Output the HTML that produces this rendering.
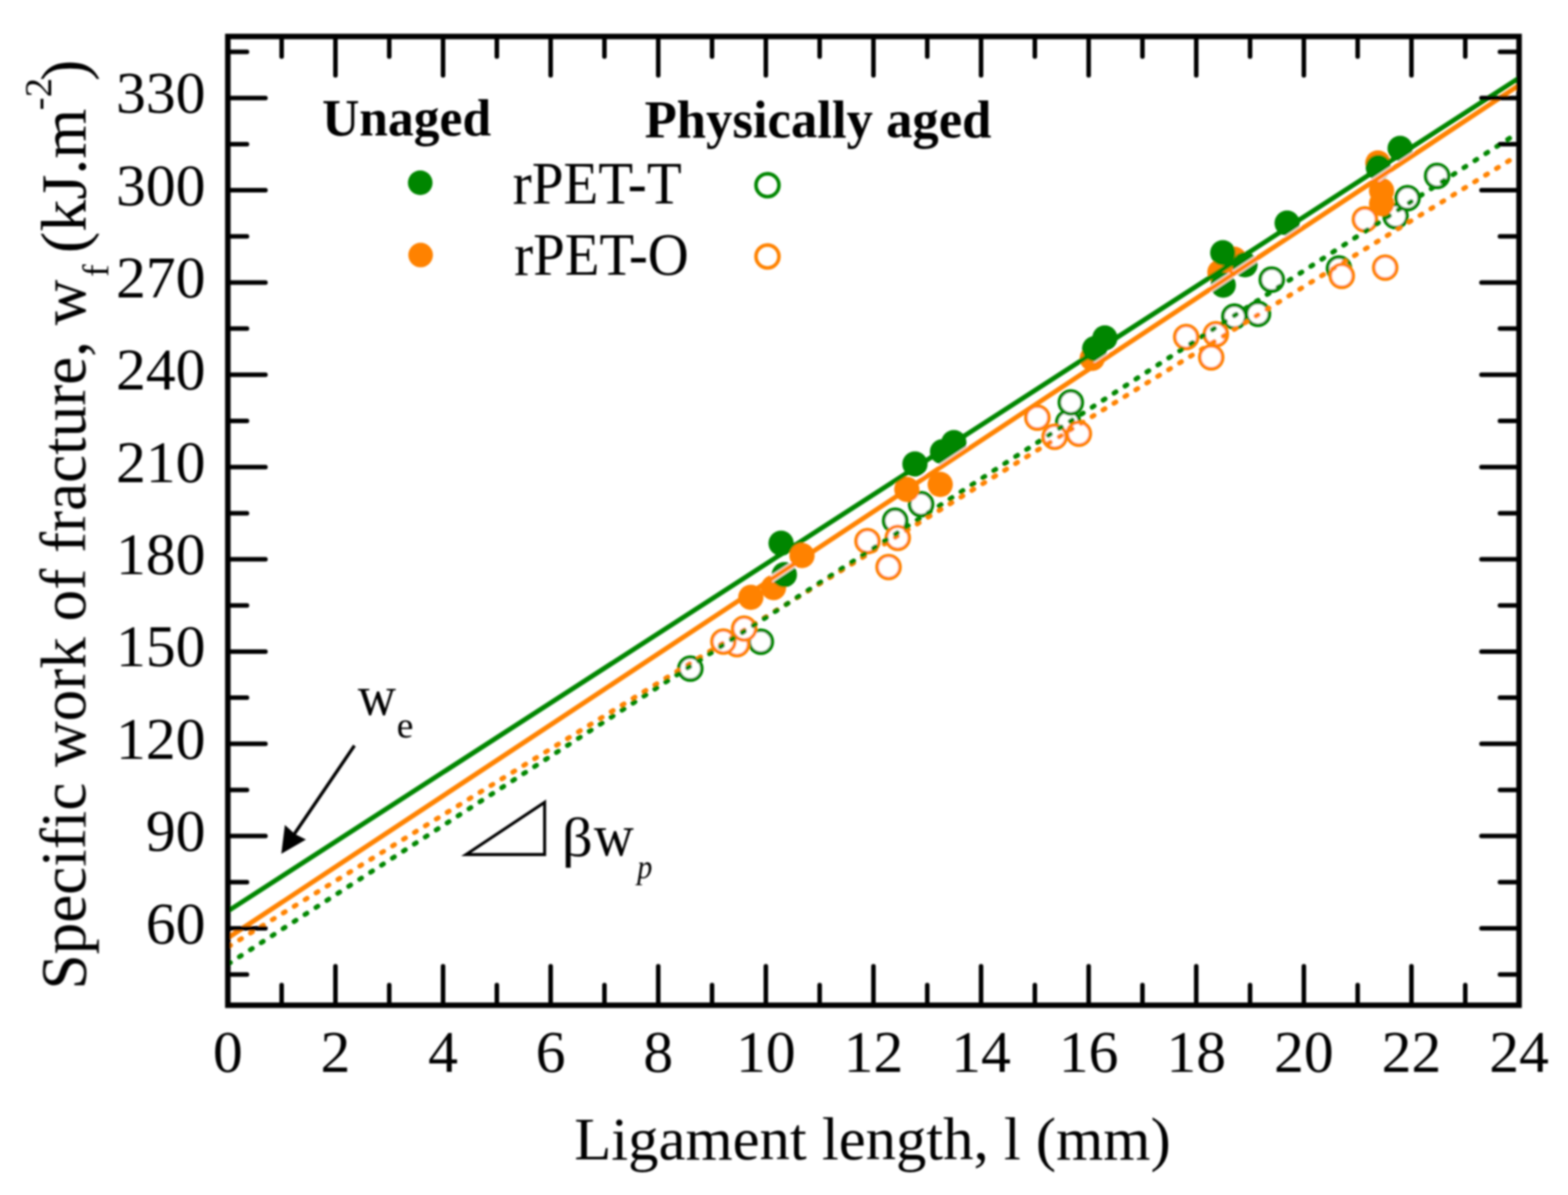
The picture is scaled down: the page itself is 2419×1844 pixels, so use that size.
<!DOCTYPE html><html><head><meta charset="utf-8"><title>Specific work of fracture vs ligament length</title><style>html,body{margin:0;padding:0;background:#fff;}svg{display:block;}text{font-family:"Liberation Serif","Times New Roman",serif;fill:#000;}</style></head><body>
<svg xmlns="http://www.w3.org/2000/svg" width="2419" height="1844" viewBox="0 0 2419 1844">
<rect x="0" y="0" width="2419" height="1844" fill="#fff"/>
<defs><filter id="soft" filterUnits="userSpaceOnUse" x="0" y="0" width="2419" height="1844"><feGaussianBlur stdDeviation="1.5"/></filter></defs>
<g filter="url(#soft)">
<defs><clipPath id="pc"><rect x="351.5" y="56.28888888888878" width="1992.0" height="1494.8500000000001"/></clipPath></defs>
<defs><clipPath id="cg"><circle cx="1205" cy="838.3" r="21.5"/><circle cx="1210" cy="886.7" r="21.5"/><circle cx="1411.5" cy="716" r="21.5"/><circle cx="1454" cy="697" r="21.5"/><circle cx="1471.5" cy="683" r="21.5"/><circle cx="1688.8" cy="538" r="21.5"/><circle cx="1704.5" cy="521.6" r="21.5"/><circle cx="1886.4" cy="390" r="21.5"/><circle cx="1887.1" cy="440" r="21.5"/><circle cx="1920.7" cy="408.6" r="21.5"/><circle cx="1985.7" cy="344.3" r="21.5"/><circle cx="2126.4" cy="258.6" r="21.5"/><circle cx="2160" cy="229" r="21.5"/></clipPath><clipPath id="co"><circle cx="1193.3" cy="906.7" r="21.5"/><circle cx="1158.3" cy="921.7" r="21.5"/><circle cx="1399" cy="755.2" r="21.5"/><circle cx="1450.5" cy="747.6" r="21.5"/><circle cx="1685" cy="553" r="21.5"/><circle cx="1882" cy="420" r="21.5"/><circle cx="1904" cy="400" r="21.5"/><circle cx="2125.7" cy="251.4" r="21.5"/><circle cx="2131.4" cy="294.3" r="21.5"/><circle cx="2131.4" cy="314.3" r="21.5"/></clipPath></defs>
<g clip-path="url(#pc)">
<circle cx="1065" cy="1031.7" r="17.7" fill="#fff" stroke="#008600" stroke-width="5.6"/>
<circle cx="1173.8" cy="990.2" r="17.7" fill="#fff" stroke="#008600" stroke-width="5.6"/>
<circle cx="1421" cy="778" r="17.7" fill="#fff" stroke="#008600" stroke-width="5.6"/>
<circle cx="1381" cy="803.5" r="17.7" fill="#fff" stroke="#008600" stroke-width="5.6"/>
<circle cx="1648" cy="652" r="17.7" fill="#fff" stroke="#008600" stroke-width="5.6"/>
<circle cx="1652" cy="621" r="17.7" fill="#fff" stroke="#008600" stroke-width="5.6"/>
<circle cx="1904.3" cy="488.6" r="17.7" fill="#fff" stroke="#008600" stroke-width="5.6"/>
<circle cx="1940.7" cy="484.3" r="17.7" fill="#fff" stroke="#008600" stroke-width="5.6"/>
<circle cx="1962" cy="431.4" r="17.7" fill="#fff" stroke="#008600" stroke-width="5.6"/>
<circle cx="2065.7" cy="414.3" r="17.7" fill="#fff" stroke="#008600" stroke-width="5.6"/>
<circle cx="2153" cy="333.5" r="17.7" fill="#fff" stroke="#008600" stroke-width="5.6"/>
<circle cx="2171.4" cy="305.7" r="17.7" fill="#fff" stroke="#008600" stroke-width="5.6"/>
<circle cx="2217.1" cy="271.4" r="17.7" fill="#fff" stroke="#008600" stroke-width="5.6"/>
<circle cx="1627" cy="674" r="17.7" fill="#fff" stroke="#ff8200" stroke-width="5.6"/>
<circle cx="1137" cy="994" r="17.7" fill="#fff" stroke="#ff8200" stroke-width="5.6"/>
<circle cx="1148" cy="970" r="17.7" fill="#fff" stroke="#ff8200" stroke-width="5.6"/>
<circle cx="1116" cy="990" r="17.7" fill="#fff" stroke="#ff8200" stroke-width="5.6"/>
<circle cx="1338.3" cy="835" r="17.7" fill="#fff" stroke="#ff8200" stroke-width="5.6"/>
<circle cx="1385" cy="830" r="17.7" fill="#fff" stroke="#ff8200" stroke-width="5.6"/>
<circle cx="1370.8" cy="875" r="17.7" fill="#fff" stroke="#ff8200" stroke-width="5.6"/>
<circle cx="1600.4" cy="644.4" r="17.7" fill="#fff" stroke="#ff8200" stroke-width="5.6"/>
<circle cx="1664.4" cy="669.2" r="17.7" fill="#fff" stroke="#ff8200" stroke-width="5.6"/>
<circle cx="1830" cy="520" r="17.7" fill="#fff" stroke="#ff8200" stroke-width="5.6"/>
<circle cx="1875.7" cy="515.7" r="17.7" fill="#fff" stroke="#ff8200" stroke-width="5.6"/>
<circle cx="1868.6" cy="551.4" r="17.7" fill="#fff" stroke="#ff8200" stroke-width="5.6"/>
<circle cx="2070" cy="425.7" r="17.7" fill="#fff" stroke="#ff8200" stroke-width="5.6"/>
<circle cx="2137" cy="412.9" r="17.7" fill="#fff" stroke="#ff8200" stroke-width="5.6"/>
<circle cx="2105.7" cy="338.6" r="17.7" fill="#fff" stroke="#ff8200" stroke-width="5.6"/>
<line x1="351.5" y1="1461.3" x2="2334" y2="244.4" stroke="#ff8200" stroke-width="7.5" stroke-linecap="round" stroke-dasharray="3.5 16.285" stroke-dashoffset="-1.41"/>
<line x1="351.5" y1="1487.9" x2="2334" y2="210.0" stroke="#008600" stroke-width="7.5" stroke-linecap="round" stroke-dasharray="3.5 16.568" stroke-dashoffset="-1.14"/>
<circle cx="1193.3" cy="906.7" r="19.5" fill="#ff8200"/>
<circle cx="1158.3" cy="921.7" r="19.5" fill="#ff8200"/>
<circle cx="1399" cy="755.2" r="19.5" fill="#ff8200"/>
<circle cx="1450.5" cy="747.6" r="19.5" fill="#ff8200"/>
<circle cx="1685" cy="553" r="19.5" fill="#ff8200"/>
<circle cx="1882" cy="420" r="19.5" fill="#ff8200"/>
<circle cx="1904" cy="400" r="19.5" fill="#ff8200"/>
<circle cx="2125.7" cy="251.4" r="19.5" fill="#ff8200"/>
<circle cx="2131.4" cy="294.3" r="19.5" fill="#ff8200"/>
<circle cx="2131.4" cy="314.3" r="19.5" fill="#ff8200"/>
<line x1="351.5" y1="1406.0" x2="2343.5" y2="120.4" stroke="#008600" stroke-width="7.4"/>
<circle cx="1205" cy="838.3" r="19.5" fill="#008600"/>
<circle cx="1210" cy="886.7" r="19.5" fill="#008600"/>
<circle cx="1411.5" cy="716" r="19.5" fill="#008600"/>
<circle cx="1454" cy="697" r="19.5" fill="#008600"/>
<circle cx="1471.5" cy="683" r="19.5" fill="#008600"/>
<circle cx="1688.8" cy="538" r="19.5" fill="#008600"/>
<circle cx="1704.5" cy="521.6" r="19.5" fill="#008600"/>
<circle cx="1886.4" cy="390" r="19.5" fill="#008600"/>
<circle cx="1887.1" cy="440" r="19.5" fill="#008600"/>
<circle cx="1920.7" cy="408.6" r="19.5" fill="#008600"/>
<circle cx="1985.7" cy="344.3" r="19.5" fill="#008600"/>
<circle cx="2126.4" cy="258.6" r="19.5" fill="#008600"/>
<circle cx="2160" cy="229" r="19.5" fill="#008600"/>
<g clip-path="url(#cg)">
<line x1="351.5" y1="1447.4" x2="2343.5" y2="131.5" stroke="#fff" stroke-width="10.5"/>
</g>
<g clip-path="url(#cg)">
<line x1="351.5" y1="1406.0" x2="2343.5" y2="120.4" stroke="#008600" stroke-width="7.4"/>
</g>
<line x1="351.5" y1="1447.4" x2="2343.5" y2="131.5" stroke="#ff8200" stroke-width="7.4"/>
<circle cx="1237.3" cy="857.3" r="19.5" fill="#ff8200"/>
</g>
<g stroke="#000" stroke-width="7" stroke-linecap="round" fill="none">
<line x1="434.5" y1="1551.1" x2="434.5" y2="1520.1"/>
<line x1="434.5" y1="56.3" x2="434.5" y2="87.3"/>
<line x1="517.5" y1="1551.1" x2="517.5" y2="1491.1"/>
<line x1="517.5" y1="56.3" x2="517.5" y2="116.3"/>
<line x1="600.5" y1="1551.1" x2="600.5" y2="1520.1"/>
<line x1="600.5" y1="56.3" x2="600.5" y2="87.3"/>
<line x1="683.5" y1="1551.1" x2="683.5" y2="1491.1"/>
<line x1="683.5" y1="56.3" x2="683.5" y2="116.3"/>
<line x1="766.5" y1="1551.1" x2="766.5" y2="1520.1"/>
<line x1="766.5" y1="56.3" x2="766.5" y2="87.3"/>
<line x1="849.5" y1="1551.1" x2="849.5" y2="1491.1"/>
<line x1="849.5" y1="56.3" x2="849.5" y2="116.3"/>
<line x1="932.5" y1="1551.1" x2="932.5" y2="1520.1"/>
<line x1="932.5" y1="56.3" x2="932.5" y2="87.3"/>
<line x1="1015.5" y1="1551.1" x2="1015.5" y2="1491.1"/>
<line x1="1015.5" y1="56.3" x2="1015.5" y2="116.3"/>
<line x1="1098.5" y1="1551.1" x2="1098.5" y2="1520.1"/>
<line x1="1098.5" y1="56.3" x2="1098.5" y2="87.3"/>
<line x1="1181.5" y1="1551.1" x2="1181.5" y2="1491.1"/>
<line x1="1181.5" y1="56.3" x2="1181.5" y2="116.3"/>
<line x1="1264.5" y1="1551.1" x2="1264.5" y2="1520.1"/>
<line x1="1264.5" y1="56.3" x2="1264.5" y2="87.3"/>
<line x1="1347.5" y1="1551.1" x2="1347.5" y2="1491.1"/>
<line x1="1347.5" y1="56.3" x2="1347.5" y2="116.3"/>
<line x1="1430.5" y1="1551.1" x2="1430.5" y2="1520.1"/>
<line x1="1430.5" y1="56.3" x2="1430.5" y2="87.3"/>
<line x1="1513.5" y1="1551.1" x2="1513.5" y2="1491.1"/>
<line x1="1513.5" y1="56.3" x2="1513.5" y2="116.3"/>
<line x1="1596.5" y1="1551.1" x2="1596.5" y2="1520.1"/>
<line x1="1596.5" y1="56.3" x2="1596.5" y2="87.3"/>
<line x1="1679.5" y1="1551.1" x2="1679.5" y2="1491.1"/>
<line x1="1679.5" y1="56.3" x2="1679.5" y2="116.3"/>
<line x1="1762.5" y1="1551.1" x2="1762.5" y2="1520.1"/>
<line x1="1762.5" y1="56.3" x2="1762.5" y2="87.3"/>
<line x1="1845.5" y1="1551.1" x2="1845.5" y2="1491.1"/>
<line x1="1845.5" y1="56.3" x2="1845.5" y2="116.3"/>
<line x1="1928.5" y1="1551.1" x2="1928.5" y2="1520.1"/>
<line x1="1928.5" y1="56.3" x2="1928.5" y2="87.3"/>
<line x1="2011.5" y1="1551.1" x2="2011.5" y2="1491.1"/>
<line x1="2011.5" y1="56.3" x2="2011.5" y2="116.3"/>
<line x1="2094.5" y1="1551.1" x2="2094.5" y2="1520.1"/>
<line x1="2094.5" y1="56.3" x2="2094.5" y2="87.3"/>
<line x1="2177.5" y1="1551.1" x2="2177.5" y2="1491.1"/>
<line x1="2177.5" y1="56.3" x2="2177.5" y2="116.3"/>
<line x1="2260.5" y1="1551.1" x2="2260.5" y2="1520.1"/>
<line x1="2260.5" y1="56.3" x2="2260.5" y2="87.3"/>
<line x1="351.5" y1="1503.7" x2="381.0" y2="1503.7"/>
<line x1="2343.5" y1="1503.7" x2="2314.0" y2="1503.7"/>
<line x1="351.5" y1="1432.5" x2="409.5" y2="1432.5"/>
<line x1="2343.5" y1="1432.5" x2="2285.5" y2="1432.5"/>
<line x1="351.5" y1="1361.3" x2="381.0" y2="1361.3"/>
<line x1="2343.5" y1="1361.3" x2="2314.0" y2="1361.3"/>
<line x1="351.5" y1="1290.1" x2="409.5" y2="1290.1"/>
<line x1="2343.5" y1="1290.1" x2="2285.5" y2="1290.1"/>
<line x1="351.5" y1="1219.0" x2="381.0" y2="1219.0"/>
<line x1="2343.5" y1="1219.0" x2="2314.0" y2="1219.0"/>
<line x1="351.5" y1="1147.8" x2="409.5" y2="1147.8"/>
<line x1="2343.5" y1="1147.8" x2="2285.5" y2="1147.8"/>
<line x1="351.5" y1="1076.6" x2="381.0" y2="1076.6"/>
<line x1="2343.5" y1="1076.6" x2="2314.0" y2="1076.6"/>
<line x1="351.5" y1="1005.4" x2="409.5" y2="1005.4"/>
<line x1="2343.5" y1="1005.4" x2="2285.5" y2="1005.4"/>
<line x1="351.5" y1="934.2" x2="381.0" y2="934.2"/>
<line x1="2343.5" y1="934.2" x2="2314.0" y2="934.2"/>
<line x1="351.5" y1="863.0" x2="409.5" y2="863.0"/>
<line x1="2343.5" y1="863.0" x2="2285.5" y2="863.0"/>
<line x1="351.5" y1="791.9" x2="381.0" y2="791.9"/>
<line x1="2343.5" y1="791.9" x2="2314.0" y2="791.9"/>
<line x1="351.5" y1="720.7" x2="409.5" y2="720.7"/>
<line x1="2343.5" y1="720.7" x2="2285.5" y2="720.7"/>
<line x1="351.5" y1="649.5" x2="381.0" y2="649.5"/>
<line x1="2343.5" y1="649.5" x2="2314.0" y2="649.5"/>
<line x1="351.5" y1="578.3" x2="409.5" y2="578.3"/>
<line x1="2343.5" y1="578.3" x2="2285.5" y2="578.3"/>
<line x1="351.5" y1="507.1" x2="381.0" y2="507.1"/>
<line x1="2343.5" y1="507.1" x2="2314.0" y2="507.1"/>
<line x1="351.5" y1="435.9" x2="409.5" y2="435.9"/>
<line x1="2343.5" y1="435.9" x2="2285.5" y2="435.9"/>
<line x1="351.5" y1="364.8" x2="381.0" y2="364.8"/>
<line x1="2343.5" y1="364.8" x2="2314.0" y2="364.8"/>
<line x1="351.5" y1="293.6" x2="409.5" y2="293.6"/>
<line x1="2343.5" y1="293.6" x2="2285.5" y2="293.6"/>
<line x1="351.5" y1="222.4" x2="381.0" y2="222.4"/>
<line x1="2343.5" y1="222.4" x2="2314.0" y2="222.4"/>
<line x1="351.5" y1="151.2" x2="409.5" y2="151.2"/>
<line x1="2343.5" y1="151.2" x2="2285.5" y2="151.2"/>
<line x1="351.5" y1="80.0" x2="381.0" y2="80.0"/>
<line x1="2343.5" y1="80.0" x2="2314.0" y2="80.0"/>
</g>
<rect x="351.5" y="56.3" width="1992.0" height="1494.9" fill="none" stroke="#000" stroke-width="8.5"/>
<g font-size="92" text-anchor="middle">
<text x="351.5" y="1653.5">0</text>
<text x="517.5" y="1653.5">2</text>
<text x="683.5" y="1653.5">4</text>
<text x="849.5" y="1653.5">6</text>
<text x="1015.5" y="1653.5">8</text>
<text x="1181.5" y="1653.5">10</text>
<text x="1347.5" y="1653.5">12</text>
<text x="1513.5" y="1653.5">14</text>
<text x="1679.5" y="1653.5">16</text>
<text x="1845.5" y="1653.5">18</text>
<text x="2011.5" y="1653.5">20</text>
<text x="2177.5" y="1653.5">22</text>
<text x="2343.5" y="1653.5">24</text>
</g>
<g font-size="92" text-anchor="end">
<text x="317" y="1455.5">60</text>
<text x="317" y="1313.1">90</text>
<text x="317" y="1170.8">120</text>
<text x="317" y="1028.4">150</text>
<text x="317" y="886.0">180</text>
<text x="317" y="743.7">210</text>
<text x="317" y="601.3">240</text>
<text x="317" y="458.9">270</text>
<text x="317" y="316.6">300</text>
<text x="317" y="174.2">330</text>
</g>
<text x="1346" y="1789" font-size="93.6" text-anchor="middle">Ligament length, l (mm)</text>
<text transform="translate(131.5 1526.9) rotate(-90) scale(0.984 1)" font-size="99">Specific work of fracture, w</text>
<text transform="translate(167 427.3) rotate(-90) scale(1.0 1)" font-size="58">f</text>
<text transform="translate(132 390.4) rotate(-90) scale(1.0 1)" font-size="99">(kJ.m</text>
<text transform="translate(78.8 170.2) rotate(-90) scale(1.0 1)" font-size="60">-2</text>
<text transform="translate(132 124.9) rotate(-90) scale(1.0 1)" font-size="99">)</text>
<text transform="translate(496.9 208.6) scale(0.9943 1)" font-size="80" font-weight="bold">Unaged</text>
<text transform="translate(994.4 211.6) scale(0.9975 1)" font-size="81.5" font-weight="bold">Physically aged</text>
<text transform="translate(791.1 313.5) scale(0.9355 1)" font-size="94">rPET-T</text>
<text transform="translate(793.2 424) scale(0.9326 1)" font-size="94">rPET-O</text>
<circle cx="648.3" cy="282" r="19" fill="#008600"/>
<circle cx="648.9" cy="393.6" r="19" fill="#ff8200"/>
<circle cx="1184" cy="285.8" r="17.7" fill="none" stroke="#008600" stroke-width="5.6"/>
<circle cx="1184" cy="395.8" r="17.7" fill="none" stroke="#ff8200" stroke-width="5.6"/>
<text transform="translate(551.9 1102.5) scale(0.9490 1)" font-size="86">w</text>
<text x="612" y="1138" font-size="58">e</text>
<line x1="546.8" y1="1150.5" x2="452" y2="1290" stroke="#000" stroke-width="5"/>
<polygon points="434,1317.5 439.5,1273 455,1287 472,1295.5" fill="#000"/>
<polygon points="719,1318.6 840.2,1318.6 840.2,1238" fill="none" stroke="#000" stroke-width="4.6" stroke-linejoin="miter"/>
<text transform="translate(866.8 1320.9) scale(1.1037 1)" font-size="85">β</text>
<text transform="translate(916.2 1320.2) scale(0.9456 1)" font-size="90">w</text>
<text transform="translate(982.9 1355.3) scale(0.8821 1)" font-size="53" font-style="italic">p</text>
</g>
</svg></body></html>
